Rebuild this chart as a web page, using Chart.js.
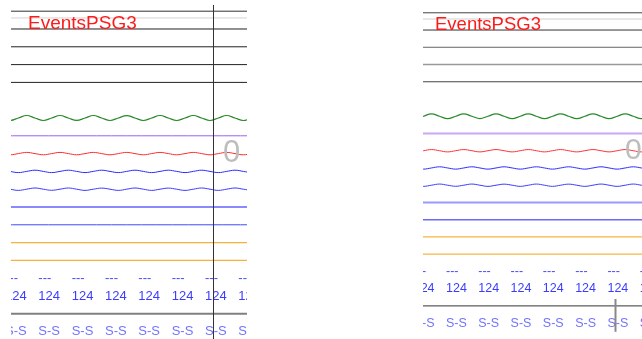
<!DOCTYPE html>
<html>
<head>
<meta charset="utf-8">
<script src="https://cdn.jsdelivr.net/npm/chart.js@4.4.1/dist/chart.umd.min.js"></script>
<style>
body { margin: 0; background: #fff; width: 642px; height: 339px; overflow: hidden; position: relative; }
.panel { position: absolute; top: 0; height: 339px; }
#left { left: 11px; width: 236px; }
#right { left: 423px; width: 219px; }
</style>
</head>
<body>
<div class="panel" id="left"><canvas id="leftChart"></canvas></div>
<div class="panel" id="right"><canvas id="rightChart"></canvas></div>
<script>
// epochs on screen (x value = epoch number)
const epochs = [0, 1, 2, 3, 4, 5, 6, 7];
const eventLabels = ['---', '---', '---', '---', '---', '---', '---', '---'];
const heartRate = ['124', '124', '124', '124', '124', '124', '124', '124'];
const stages = ['S-S', 'S-S', 'S-S', 'S-S', 'S-S', 'S-S', 'S-S', 'S-S'];
const montageName = 'EventsPSG3';
const cursorEpoch = 6.24;
const markerText = '0';
const markerEpoch = 6.54;

// sample times (epochs), quarter epoch steps
const timeLeft = [-0.35, -0.1, 0.15, 0.4, 0.65, 0.9, 1.15, 1.4, 1.65, 1.9, 2.15, 2.4, 2.65, 2.9, 3.15, 3.4,
  3.65, 3.9, 4.15, 4.4, 4.65, 4.9, 5.15, 5.4, 5.65, 5.9, 6.15, 6.4, 6.65, 6.9, 7.15, 7.4, 7.65];
const timeRight = [-0.45, -0.2, 0.05, 0.3, 0.55, 0.8, 1.05, 1.3, 1.55, 1.8, 2.05, 2.3, 2.55, 2.8, 3.05, 3.3,
  3.55, 3.8, 4.05, 4.3, 4.55, 4.8, 5.05, 5.3, 5.55, 5.8, 6.05, 6.3, 6.55, 6.8, 7.05, 7.3, 7.55];

// signal samples
const eeg = [25, 0, -25, 0, 25, 0, -25, 0, 25, 0, -24, 0, 25, 0, -25, 0, 24, 0, -25, 0, 25, 0, -25, 0,
  25, 0, -25, 0, 25, 0, -25, 0, 25];
const flow = [12, 0, -12, 0, 12, 0, -12, 0, 12, 0, -12, 0, 12, 0, -12, 0, 12, 0, -12, 0, 12, 0, -12, 0,
  12, 0, -12, 0, 12, 0, -12, 0, 12];
const chest = [0, 12, 0, -12, 0, 12, 0, -12, 0, 12, 0, -12, 0, 12, 0, -12, 0, 12, 0, -12, 0, 12, 0, -12,
  0, 12, 0, -12, 0, 12, 0, -12, 0];
const abdomen = [0, 11, 0, -12, 0, 12, 0, -11, 0, 12, 0, -12, 0, 11, 0, -12, 0, 12, 0, -12, 0, 11, 0, -12,
  0, 12, 0, -12, 0, 12, 0, -11, 0];
const flat = null;

const gain = 0.0056; // rows per unit
const FONT = 'Arial, "Liberation Sans", sans-serif';

const overlay = {
  id: 'overlay',
  afterDatasetsDraw(chart, args, o) {
    const { ctx, chartArea } = chart;
    const x = chart.scales.x, y = chart.scales.y;
    ctx.save();
    o.rules.forEach(r => {
      const py = y.getPixelForValue(r.row);
      ctx.strokeStyle = r.color;
      ctx.lineWidth = r.width || 1;
      ctx.beginPath();
      ctx.moveTo(chartArea.left, py);
      ctx.lineTo(chartArea.right, py);
      ctx.stroke();
    });

    ctx.textAlign = 'left';
    ctx.textBaseline = 'middle';
    ctx.font = o.labelSize + 'px ' + FONT;
    epochs.forEach((e, i) => {
      const px = x.getPixelForValue(e);
      ctx.fillStyle = '#4a4aff';
      ctx.fillText(eventLabels[i], px, y.getPixelForValue(15));
      ctx.fillStyle = '#3c3cff';
      ctx.fillText(heartRate[i], px, y.getPixelForValue(16));
      ctx.fillStyle = '#7373ff';
      ctx.fillText(stages[i], px, y.getPixelForValue(18));
    });

    ctx.textBaseline = 'alphabetic';
    ctx.font = o.titleSize + 'px ' + FONT;
    ctx.fillStyle = '#ff1a1a';
    ctx.fillText(montageName, x.getPixelForValue(o.titleEpoch), y.getPixelForValue(1));

    ctx.textBaseline = 'middle';
    ctx.font = o.markerSize + 'px ' + FONT;
    ctx.fillStyle = '#bdbdbd';
    ctx.fillText(markerText, x.getPixelForValue(markerEpoch), y.getPixelForValue(8));

    const cx = Math.round(x.getPixelForValue(cursorEpoch)) + 0.5;
    ctx.strokeStyle = o.cursor.color;
    ctx.lineWidth = o.cursor.width;
    ctx.beginPath();
    ctx.moveTo(cx, y.getPixelForValue(o.cursor.from));
    ctx.lineTo(cx, y.getPixelForValue(o.cursor.to));
    ctx.stroke();
    ctx.restore();
  }
};

function trace(time, values, row, color, width) {
  const data = values
    ? time.map((t, i) => ({ x: t, y: row - gain * values[i] }))
    : [{ x: time[0], y: row }, { x: time[time.length - 1], y: row }];
  return { data, borderColor: color, borderWidth: width || 1, pointRadius: 0, tension: 0.4, fill: false };
}

function makePanel(id, cfg) {
  const t = cfg.time;
  new Chart(document.getElementById(id), {
    type: 'line',
    data: {
      datasets: [
        trace(t, eeg, 6, cfg.colors.eeg, 1.2),
        trace(t, flat, 7, cfg.colors.purple, cfg.purpleWidth),
        trace(t, flow, 8, cfg.colors.red, 1),
        trace(t, chest, 9, cfg.colors.blue, 1),
        trace(t, abdomen, 10, cfg.colors.blue2, 1),
        trace(t, flat, 11, cfg.colors.light, 2),
        trace(t, flat, 12, cfg.colors.blue3, cfg.blue3Width),
        trace(t, flat, 13, cfg.colors.orange, 1.2),
        trace(t, flat, 14, cfg.colors.orange, 1.2)
      ]
    },
    options: {
      responsive: true,
      maintainAspectRatio: false,
      animation: false,
      layout: { padding: 0 },
      scales: {
        x: { type: 'linear', min: cfg.xMin, max: cfg.xMax, display: false },
        y: { type: 'linear', reverse: true, min: cfg.yMin, max: cfg.yMax, display: false }
      },
      plugins: {
        legend: { display: false },
        tooltip: { enabled: false },
        overlay: cfg.overlay
      }
    },
    plugins: [overlay]
  });
}

makePanel('leftChart', {
  time: timeLeft,
  xMin: 0.18, xMax: 7.26, yMin: -0.629, yMax: 18.416,
  purpleWidth: 1, blue3Width: 1,
  colors: { eeg: '#2a8a2a', purple: '#a060f0', red: '#ff2b2b', blue: '#2b2bff', blue2: '#3a3aff',
    light: '#8a8aff', blue3: '#3c4cff', orange: '#f4b13c' },
  overlay: {
    labelSize: 13, titleSize: 19, markerSize: 31, titleEpoch: 0.69,
    rules: [
      { row: 0, color: '#333' }, { row: 0.38, color: '#d4d4d4' },
      { row: 1, color: '#222' }, { row: 2, color: '#222' }, { row: 3, color: '#222' }, { row: 4, color: '#222' },
      { row: 17, color: '#808080', width: 2 }
    ],
    cursor: { from: -0.35, to: 19.5, color: '#333', width: 1 }
  }
});

makePanel('rightChart', {
  time: timeRight,
  xMin: 0.288, xMax: 7.07, yMin: -0.742, yMax: 18.92,
  purpleWidth: 2, blue3Width: 1.5,
  colors: { eeg: '#2a8a2a', purple: '#cba7f2', red: '#ff3030', blue: '#2b2bff', blue2: '#3a3aff',
    light: '#9a9aff', blue3: '#6b6bf5', orange: '#f7b53e' },
  overlay: {
    labelSize: 12.5, titleSize: 18.5, markerSize: 30, titleEpoch: 0.66,
    rules: [
      { row: 0, color: '#444' }, { row: 0.36, color: '#d0d0d0' },
      { row: 1, color: '#333' }, { row: 2, color: '#666' }, { row: 3, color: '#999', width: 1.5 }, { row: 4, color: '#444' },
      { row: 17, color: '#333' }
    ],
    cursor: { from: 16.6, to: 18.5, color: '#888', width: 2 }
  }
});
</script>
</body>
</html>
